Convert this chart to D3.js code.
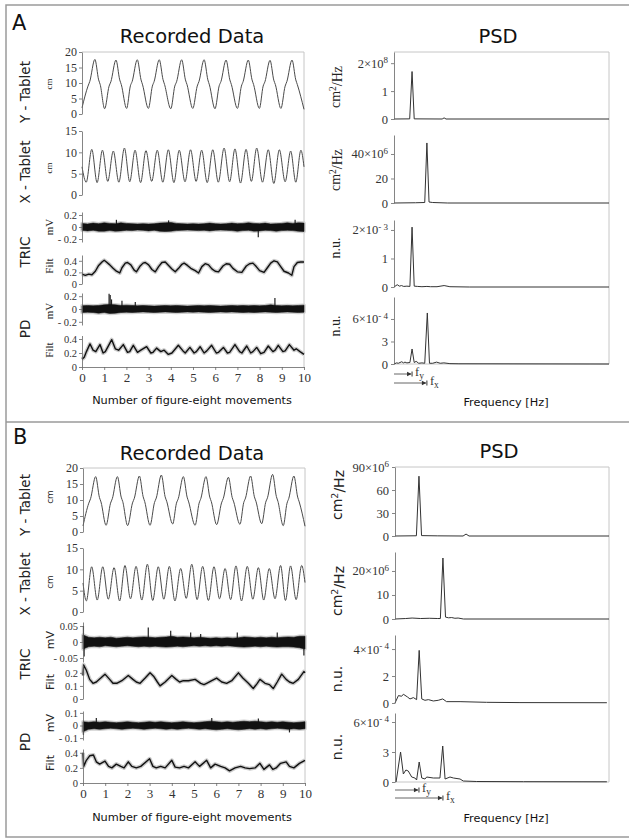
<!DOCTYPE html>
<html>
<head>
<meta charset="utf-8">
<script src="https://cdn.jsdelivr.net/npm/d3@7"></script>
<style>
body { margin: 0; background: #fff; }
svg { display: block; }
</style>
</head>
<body>
<svg id="fig" width="629" height="839"></svg>
<script>
// ---------- Data ----------
// x axis of the recorded data (number of figure-eight movements)
const movementTicks = [0, 1, 2, 3, 4, 5, 6, 7, 8, 9, 10]
const yTabletTicks = [0, 5, 10, 15, 20]
const xTabletTicks = [0, 5, 10, 15]

// Panel A - tablet traces (key points: movement, cm)
const aYTabT = [0, 0.27, 0.35, 0.58, 0.75, 0.82, 1.02, 1.22, 1.30, 1.53, 1.70, 1.77, 2.01, 2.18, 2.26, 2.49, 2.66, 2.73, 2.99,
    3.17, 3.25, 3.48, 3.65, 3.72, 4.00, 4.18, 4.26, 4.49, 4.66, 4.73, 4.99, 5.19, 5.27, 5.50, 5.67, 5.74, 5.99,
    6.18, 6.26, 6.49, 6.66, 6.73, 7.00, 7.18, 7.26, 7.49, 7.66, 7.73, 7.99, 8.16, 8.24, 8.47, 8.64, 8.71, 8.96,
    9.15, 9.23, 9.46, 9.63, 9.70, 10]
const aYTabV = [2.0, 9.0, 10.5, 17.6, 11.0, 9.5, 1.7, 9.0, 10.4, 17.4, 11.0, 9.5, 1.8, 9.1, 10.5, 17.5, 11.0, 9.4, 1.8,
    9.0, 10.5, 17.5, 11.1, 9.5, 1.7, 9.0, 10.4, 17.5, 11.0, 9.5, 1.8, 9.0, 10.5, 17.5, 11.0, 9.4, 1.7,
    9.1, 10.5, 17.4, 11.0, 9.5, 1.8, 9.0, 10.5, 17.4, 11.0, 9.5, 1.8, 9.0, 10.4, 17.3, 10.9, 9.5, 1.8,
    9.0, 10.5, 17.4, 11.0, 9.5, 1.5]
const aXTabT = [0, 0.19, 0.44, 0.68, 0.92, 1.16, 1.41, 1.66, 1.91, 2.15, 2.39, 2.64, 2.88, 3.14, 3.39, 3.64, 3.89, 4.14, 4.38,
    4.64, 4.89, 5.14, 5.39, 5.64, 5.89, 6.14, 6.40, 6.65, 6.89, 7.14, 7.39, 7.63, 7.87, 8.13, 8.39, 8.64, 8.89,
    9.15, 9.40, 9.63, 9.86, 10]
const aXTabV = [6.6, 3.0, 10.7, 2.9, 10.5, 3.2, 10.3, 3.0, 11.0, 3.1, 10.5, 2.9, 10.4, 3.2, 10.5, 3.0, 10.6, 2.9, 10.5,
    3.1, 10.6, 3.2, 10.5, 2.9, 10.6, 3.0, 11.0, 3.1, 10.8, 2.8, 10.7, 3.2, 11.0, 3.0, 10.6, 2.7, 10.6,
    3.1, 10.3, 3.0, 10.5, 6.6]

// Panel B - tablet traces
const bYTabT = [0, 0.26, 0.34, 0.57, 0.74, 0.81, 1.04, 1.24, 1.32, 1.55, 1.72, 1.79, 2.01, 2.23, 2.31, 2.54, 2.71, 2.78, 3.02,
    3.22, 3.30, 3.53, 3.70, 3.77, 4.04, 4.21, 4.29, 4.52, 4.69, 4.76, 5.05, 5.23, 5.31, 5.54, 5.71, 5.78, 6.02,
    6.24, 6.32, 6.55, 6.72, 6.79, 7.07, 7.24, 7.32, 7.55, 7.72, 7.79, 8.05, 8.23, 8.31, 8.54, 8.71, 8.78, 9.02,
    9.19, 9.27, 9.50, 9.67, 9.74, 10]
const bYTabV = [1.9, 9.0, 10.4, 17.3, 10.8, 9.4, 2.1, 9.0, 10.4, 17.3, 10.9, 9.5, 2.0, 9.1, 10.5, 17.5, 11.0, 9.5, 2.1,
    9.2, 10.6, 17.8, 11.0, 9.6, 2.5, 9.0, 10.4, 17.3, 10.9, 9.4, 2.1, 9.0, 10.5, 17.3, 10.9, 9.5, 2.3,
    9.1, 10.5, 17.1, 10.8, 9.4, 2.4, 9.2, 10.6, 17.5, 11.0, 9.6, 2.6, 9.3, 10.7, 18.0, 11.1, 9.6, 2.0,
    9.0, 10.5, 17.5, 10.9, 9.4, 1.8]
const bXTabT = [0, 0.15, 0.39, 0.64, 0.89, 1.14, 1.40, 1.65, 1.89, 2.14, 2.39, 2.65, 2.90, 3.14, 3.39, 3.64, 3.89, 4.14, 4.40,
    4.65, 4.90, 5.14, 5.39, 5.65, 5.90, 6.15, 6.40, 6.65, 6.89, 7.14, 7.40, 7.65, 7.90, 8.14, 8.39, 8.65, 8.90,
    9.12, 9.35, 9.60, 9.85, 10]
const bXTabV = [6.8, 2.6, 10.6, 2.8, 10.6, 3.0, 10.4, 2.6, 10.9, 3.1, 10.7, 2.8, 11.2, 2.7, 10.6, 3.0, 10.7, 2.6, 10.2,
    3.2, 11.2, 2.9, 10.7, 2.7, 10.6, 3.1, 10.2, 2.9, 10.8, 2.6, 10.7, 3.0, 10.4, 2.8, 10.2, 3.1, 10.9,
    2.7, 10.8, 2.9, 10.9, 6.9]

// Raw EMG: envelope of the dense trace, every 0.25 movement (mV)
const emgGrid = d3.range(41).map(i => i * 0.25)
const aTricRawHi = [0.06, 0.05, 0.065, 0.055, 0.07, 0.06, 0.055, 0.07, 0.06, 0.055, 0.05, 0.055, 0.05, 0.055, 0.065, 0.07, 0.075, 0.06, 0.055, 0.05,
    0.055, 0.05, 0.055, 0.065, 0.055, 0.05, 0.055, 0.065, 0.055, 0.06, 0.07, 0.06, 0.055, 0.065, 0.05, 0.055, 0.06, 0.07, 0.06, 0.07, 0.065]
const aTricRawLo = [-0.055, -0.065, -0.055, -0.07, -0.07, -0.06, -0.07, -0.065, -0.055, -0.06, -0.05, -0.055, -0.065, -0.055, -0.07, -0.075, -0.07, -0.06, -0.055, -0.05,
    -0.055, -0.06, -0.055, -0.065, -0.055, -0.05, -0.055, -0.06, -0.07, -0.06, -0.055, -0.07, -0.065, -0.055, -0.06, -0.07, -0.06, -0.055, -0.06, -0.07, -0.075]
const aTricSpikeX = [1.55, 3.9, 7.94, 9.6]
const aTricSpikeV = [0.12, 0.11, -0.17, 0.12]
const aPdRawHi = [0.05, 0.055, 0.05, 0.055, 0.065, 0.07, 0.065, 0.055, 0.06, 0.055, 0.05, 0.055, 0.05, 0.045, 0.05, 0.055, 0.05, 0.055, 0.05, 0.045,
    0.05, 0.055, 0.05, 0.055, 0.05, 0.045, 0.05, 0.055, 0.05, 0.055, 0.05, 0.055, 0.05, 0.055, 0.065, 0.055, 0.05, 0.055, 0.05, 0.055, 0.06]
const aPdRawLo = [-0.055, -0.05, -0.055, -0.065, -0.055, -0.07, -0.065, -0.055, -0.05, -0.055, -0.05, -0.045, -0.05, -0.055, -0.05, -0.045, -0.05, -0.055, -0.05, -0.045,
    -0.05, -0.045, -0.05, -0.055, -0.05, -0.045, -0.05, -0.045, -0.05, -0.055, -0.05, -0.055, -0.05, -0.045, -0.05, -0.055, -0.05, -0.045, -0.05, -0.055, -0.05]
const aPdSpikeX = [1.22, 1.27, 1.33, 1.8, 2.4, 8.69]
const aPdSpikeV = [0.24, 0.22, 0.15, 0.13, 0.11, 0.17]
const bTricRawHi = [0.022, 0.015, 0.013, 0.015, 0.013, 0.015, 0.012, 0.013, 0.015, 0.013, 0.015, 0.016, 0.015, 0.013, 0.015, 0.016, 0.018, 0.015, 0.016, 0.015,
    0.013, 0.015, 0.013, 0.012, 0.013, 0.012, 0.013, 0.012, 0.013, 0.016, 0.015, 0.013, 0.015, 0.013, 0.015, 0.013, 0.015, 0.016, 0.015, 0.018, 0.018]
const bTricRawLo = [-0.022, -0.015, -0.013, -0.015, -0.012, -0.013, -0.015, -0.013, -0.012, -0.013, -0.015, -0.013, -0.015, -0.013, -0.015, -0.016, -0.015, -0.013, -0.015, -0.013,
    -0.012, -0.013, -0.012, -0.013, -0.012, -0.013, -0.012, -0.013, -0.015, -0.016, -0.015, -0.013, -0.015, -0.013, -0.015, -0.016, -0.015, -0.015, -0.016, -0.018, -0.022]
const bTricSpikeX = [0.02, 0.05, 2.94, 3.95, 4.85, 5.3, 6.95, 8.75, 9.95]
const bTricSpikeV = [0.05, -0.045, 0.045, 0.035, 0.03, 0.025, 0.03, 0.03, -0.042]
const bPdRawHi = [0.030, 0.026, 0.030, 0.026, 0.030, 0.026, 0.022, 0.026, 0.030, 0.026, 0.022, 0.026, 0.030, 0.026, 0.030, 0.026, 0.022, 0.026, 0.030, 0.026,
    0.022, 0.026, 0.030, 0.034, 0.030, 0.026, 0.030, 0.026, 0.030, 0.034, 0.030, 0.034, 0.030, 0.026, 0.030, 0.026, 0.030, 0.026, 0.022, 0.026, 0.030]
const bPdRawLo = [-0.050, -0.030, -0.026, -0.030, -0.026, -0.022, -0.026, -0.030, -0.026, -0.022, -0.026, -0.030, -0.026, -0.022, -0.026, -0.030, -0.026, -0.030, -0.026, -0.022,
    -0.026, -0.030, -0.026, -0.030, -0.034, -0.030, -0.026, -0.030, -0.034, -0.030, -0.026, -0.030, -0.026, -0.030, -0.026, -0.022, -0.026, -0.030, -0.026, -0.030, -0.026]
const bPdSpikeX = [0.02, 0.6, 5.8, 7.9, 9.3]
const bPdSpikeV = [-0.075, 0.06, 0.06, 0.055, -0.055]

// Filtered EMG (key points: movement, value)
const aTricFiltT = [0, 0.15, 0.3, 0.45, 0.6, 0.75, 0.9, 1.0, 1.1, 1.25, 1.4, 1.55, 1.7, 1.8, 1.95, 2.05, 2.2, 2.35, 2.45, 2.6, 2.75, 2.85,
    3.0, 3.15, 3.3, 3.45, 3.6, 3.75, 3.9, 4.05, 4.2, 4.35, 4.5, 4.6, 4.75, 4.9, 5.1, 5.25, 5.4, 5.55, 5.7, 5.85, 6.0, 6.15,
    6.35, 6.5, 6.65, 6.8, 7.0, 7.2, 7.4, 7.55, 7.7, 7.85, 8.0, 8.2, 8.35, 8.5, 8.65, 8.8, 8.95, 9.1, 9.3, 9.45, 9.55, 9.7, 9.85, 10]
const aTricFiltV = [0.17, 0.15, 0.17, 0.16, 0.22, 0.32, 0.38, 0.41, 0.38, 0.33, 0.27, 0.22, 0.19, 0.28, 0.36, 0.37, 0.33, 0.24, 0.21, 0.30, 0.36, 0.37,
    0.33, 0.25, 0.21, 0.30, 0.37, 0.38, 0.32, 0.26, 0.21, 0.27, 0.34, 0.36, 0.32, 0.27, 0.23, 0.19, 0.30, 0.35, 0.33, 0.26, 0.22, 0.21,
    0.31, 0.35, 0.34, 0.27, 0.21, 0.20, 0.31, 0.35, 0.36, 0.30, 0.23, 0.20, 0.28, 0.36, 0.40, 0.38, 0.30, 0.22, 0.19, 0.15, 0.30, 0.37, 0.38, 0.38]
const aPdFiltT = [0, 0.1, 0.2, 0.36, 0.5, 0.62, 0.81, 0.95, 1.05, 1.34, 1.5, 1.65, 1.86, 2.05, 2.15, 2.31, 2.5, 2.65, 2.91, 3.1, 3.2, 3.36,
    3.55, 3.7, 3.89, 4.05, 4.34, 4.55, 4.65, 4.86, 5.05, 5.15, 5.32, 5.5, 5.62, 5.84, 6.05, 6.15, 6.37, 6.55, 6.65, 6.89,
    7.1, 7.2, 7.42, 7.6, 7.7, 7.87, 8.05, 8.2, 8.39, 8.6, 8.7, 8.84, 9.05, 9.15, 9.34, 9.55, 9.65, 9.82, 10]
const aPdFiltV = [0.11, 0.14, 0.22, 0.33, 0.24, 0.22, 0.32, 0.20, 0.22, 0.39, 0.26, 0.24, 0.32, 0.21, 0.22, 0.31, 0.21, 0.24, 0.29, 0.20, 0.21, 0.27,
    0.22, 0.24, 0.18, 0.20, 0.31, 0.23, 0.20, 0.28, 0.20, 0.22, 0.29, 0.20, 0.23, 0.31, 0.20, 0.21, 0.28, 0.20, 0.21, 0.32,
    0.22, 0.20, 0.30, 0.20, 0.22, 0.28, 0.19, 0.21, 0.30, 0.22, 0.24, 0.31, 0.22, 0.23, 0.32, 0.24, 0.26, 0.22, 0.18]
const bTricFiltT = [0, 0.03, 0.15, 0.3, 0.45, 0.6, 0.8, 0.99, 1.2, 1.35, 1.52, 1.75, 2.04, 2.25, 2.4, 2.57, 2.8, 3.02, 3.2, 3.35, 3.47,
    3.7, 4.0, 4.2, 4.35, 4.52, 4.75, 5.05, 5.3, 5.45, 5.57, 5.8, 6.02, 6.25, 6.47, 6.7, 7.0, 7.2, 7.45, 7.67, 7.85, 7.97,
    8.2, 8.4, 8.57, 8.75, 8.95, 9.15, 9.3, 9.47, 9.7, 9.95, 10]
const bTricFiltV = [0.18, 0.26, 0.22, 0.15, 0.12, 0.13, 0.16, 0.19, 0.15, 0.12, 0.12, 0.14, 0.18, 0.15, 0.13, 0.12, 0.16, 0.20, 0.17, 0.13, 0.10,
    0.13, 0.18, 0.15, 0.13, 0.14, 0.14, 0.15, 0.12, 0.11, 0.12, 0.14, 0.16, 0.13, 0.12, 0.14, 0.20, 0.16, 0.12, 0.08, 0.12, 0.15,
    0.12, 0.11, 0.08, 0.13, 0.19, 0.15, 0.13, 0.12, 0.15, 0.21, 0.20]
const bPdFiltT = [0, 0.03, 0.15, 0.3, 0.47, 0.6, 0.75, 0.99, 1.15, 1.3, 1.5, 1.7, 1.85, 2.04, 2.2, 2.4, 2.6, 3.0, 3.15, 3.3, 3.5,
    3.7, 4.0, 4.15, 4.35, 4.55, 4.75, 5.05, 5.25, 5.57, 5.75, 5.95, 6.2, 6.4, 6.6, 6.85, 7.1, 7.3, 7.5, 7.75, 7.97,
    8.15, 8.4, 8.55, 8.7, 8.9, 9.15, 9.3, 9.5, 9.75, 10]
const bPdFiltV = [0.40, 0.22, 0.30, 0.36, 0.37, 0.28, 0.25, 0.29, 0.22, 0.20, 0.25, 0.22, 0.20, 0.28, 0.22, 0.20, 0.22, 0.32, 0.22, 0.20, 0.22,
    0.20, 0.30, 0.21, 0.20, 0.22, 0.20, 0.28, 0.22, 0.30, 0.20, 0.25, 0.22, 0.20, 0.16, 0.20, 0.22, 0.20, 0.19, 0.20, 0.26,
    0.18, 0.24, 0.18, 0.20, 0.26, 0.28, 0.22, 0.20, 0.26, 0.30]

// PSD (frequency in bins 0..100 across the axis; values in units of the tick exponent)
const aPsdYF = [0, 7.3, 8.4, 9.4, 22.4, 23.3, 24.2, 100]
const aPsdYV = [0, 0.005, 1.7, 0.005, 0, 0.04, 0, 0]
const aPsdXF = [0, 10, 14.3, 15.3, 16.3, 18, 25, 100]
const aPsdXV = [0, 0.2, 0.4, 49, 0.8, 0.4, 0, 0]
const aPsdTricF = [0, 1.5, 2.5, 3.5, 4.5, 6, 7.4, 8.4, 9.4, 11, 13, 15.3, 17, 20, 23.3, 26, 35, 100]
const aPsdTricV = [0, 0.08, 0.03, 0.05, 0.02, 0.03, 0.02, 2.1, 0.03, 0.02, 0.01, 0.02, 0.01, 0.01, 0.05, 0.01, 0, 0]
const aPsdPdF = [0, 1.2, 2, 3.6, 4.4, 5.1, 6, 7.4, 8.4, 9.4, 10.3, 11.5, 13, 14.3, 15.5, 16.5, 18, 19.8, 21.5, 23.2, 26, 30.2, 100]
const aPsdPdV = [0, 0.15, 0.1, 0.3, 0.15, 0.25, 0.15, 0.2, 2.0, 0.2, 0.35, 0.1, 0.15, 0.1, 6.8, 0.1, 0.1, 0.25, 0.1, 0.15, 0.05, 0.03, 0]
const bPsdYF = [0, 10, 11.2, 12.4, 20, 31.8, 33.2, 34.6, 100]
const bPsdYV = [0, 0.3, 78, 0.5, 0.2, 0, 2.5, 0, 0]
const bPsdXF = [0, 5, 8, 12, 16, 20, 21.2, 22.4, 23.6, 25, 26.5, 28, 29.5, 32, 100]
const bPsdXV = [0, 0.2, 0.4, 0.2, 0.3, 0.2, 0.2, 25.4, 0.8, 0.5, 0.6, 0.3, 0.4, 0, 0]
const bPsdTricF = [0, 1.6, 3.1, 3.9, 5.8, 7, 8.6, 10.1, 11.3, 12.5, 14, 15.6, 17.9, 20.2, 22.3, 24.1, 30.4, 42.8, 58.4, 99]
const bPsdTricV = [0, 0.55, 0.5, 0.65, 0.45, 0.3, 0.4, 0.25, 3.9, 0.3, 0.2, 0.25, 0.15, 0.2, 0.3, 0.1, 0.1, 0.05, 0.03, 0.02]
const bPsdPdF = [0.5, 2.6, 3.9, 5.1, 6.2, 7.8, 9.3, 10.1, 11.3, 12.5, 14, 14.8, 17.9, 21, 22.3, 23.4, 25.7, 27.3, 30.4, 31.9, 38.2, 60, 99]
const bPsdPdV = [0, 3.0, 0.8, 1.2, 1.1, 0.5, 0.4, 0.2, 2.0, 0.4, 0.3, 0.5, 0.4, 0.4, 3.6, 0.3, 0.5, 0.4, 0.3, 0.1, 0.05, 0.03, 0.02]

// Movement frequencies marked under the PSD
const aFy = 8.4, aFx = 15.3
const bFy = 11.2, bFx = 22.4

// ---------- Styles ----------
const sans = "'DejaVu Sans', Verdana, sans-serif"
const serif = "'Liberation Serif', 'Times New Roman', serif"
const frameColor = '#c6c6c6'
const axisColor = '#666'
const borderColor = '#9a9a9a'
const textColor = '#222'

const svg = d3.select('#fig')

const fmtTick = v => v < 0 ? '- ' + Math.abs(v) : String(v)

function styleAxis(g, size) {
    g.select('.domain').attr('stroke', axisColor).attr('stroke-width', 0.8)
    g.selectAll('.tick line').attr('stroke', axisColor).attr('stroke-width', 0.8)
    g.selectAll('.tick text').attr('fill', '#333')
        .style('font-family', serif).style('font-size', size + 'px')
}

function rotLabel(x, y, txt, font, size) {
    return svg.append('text')
        .attr('transform', `translate(${x},${y}) rotate(-90)`)
        .attr('text-anchor', 'middle').attr('dy', '0.35em')
        .style('font-family', font).style('font-size', size + 'px')
        .attr('fill', textColor).text(txt)
}

function plainText(x, y, txt, size, anchor) {
    svg.append('text').attr('x', x).attr('y', y)
        .attr('text-anchor', anchor || 'middle')
        .style('font-family', sans).style('font-size', size + 'px')
        .attr('fill', '#111').text(txt)
}

// ---------- Recorded data ----------
function drawSeries(g, r, x, y) {
    if (r.kind === 'tablet') {
        const pts = r.t.map((t, i) => [t, r.v[i]])
        g.append('path').datum(pts)
            .attr('d', d3.line().x(d => x(d[0])).y(d => y(d[1])).curve(d3.curveMonotoneX))
            .attr('fill', 'none').attr('stroke', '#4a4a4a').attr('stroke-width', 1)
    } else if (r.kind === 'raw') {
        const pts = emgGrid.map((t, i) => ({ t: t, hi: r.hi[i], lo: r.lo[i] }))
        const area = d3.area().x(d => x(d.t)).y0(d => y(d.lo)).y1(d => y(d.hi))
        const spikes = r.spikeX.map((t, i) => [t, r.spikeV[i]])
        g.append('path').datum(pts).attr('d', area)
            .attr('fill', '#bbb').attr('stroke', '#d0d0d0').attr('stroke-width', 3.5).attr('stroke-linejoin', 'round')
        g.selectAll(null).data(spikes).join('line')
            .attr('x1', d => x(d[0])).attr('x2', d => x(d[0]))
            .attr('y1', y(0)).attr('y2', d => y(d[1]))
            .attr('stroke', '#222').attr('stroke-width', 1.2)
        g.append('path').datum(pts).attr('d', area)
            .attr('fill', '#111').attr('stroke', '#111').attr('stroke-width', 0.6)
    } else {
        const pts = r.t.map((t, i) => [t, r.v[i]])
        const line = d3.line().x(d => x(d[0])).y(d => y(d[1]))
        g.append('path').datum(pts).attr('d', line)
            .attr('fill', 'none').attr('stroke', '#cacaca').attr('stroke-width', 4).attr('stroke-linejoin', 'round')
        g.append('path').datum(pts).attr('d', line)
            .attr('fill', 'none').attr('stroke', '#111').attr('stroke-width', 1.4).attr('stroke-linejoin', 'round')
    }
}

function drawRecorded(p) {
    const x = d3.scaleLinear().domain([0, 10]).range([p.x0, p.x1])
    const g = svg.append('g')
    g.append('path').attr('d', `M${p.x0},${p.top}H${p.x1}V${p.bottom}`)
        .attr('fill', 'none').attr('stroke', frameColor).attr('stroke-width', 1)
    p.rows.forEach(r => {
        const y = d3.scaleLinear().domain(r.domain).range(r.range)
        drawSeries(g, r, x, y)
        const ax = g.append('g').attr('transform', `translate(${p.x0},0)`)
            .call(d3.axisLeft(y).tickValues(r.ticks).tickSize(3).tickSizeOuter(0).tickPadding(2).tickFormat(fmtTick))
        styleAxis(ax, r.kind === 'tablet' ? 12 : 10.5)
        rotLabel(p.unitX, r.unitY, r.unit, p.unitFont, r.unitSize)
    })
    const xa = g.append('g').attr('transform', `translate(0,${p.bottom})`)
        .call(d3.axisBottom(x).tickValues(movementTicks).tickSize(3).tickSizeOuter(0).tickPadding(3))
    styleAxis(xa, 13)
    p.groups.forEach(gr => rotLabel(25, gr.y, gr.text, sans, 13.5))
    plainText(p.titleX, p.titleY, 'Recorded Data', 19.5)
    plainText(p.titleX, p.xlabelY, 'Number of figure-eight movements', 11.3)
}

// ---------- PSD ----------
function drawPsd(p) {
    const x = d3.scaleLinear().domain([0, 100]).range([p.x0, p.x1])
    const g = svg.append('g')
    const last = p.rows[p.rows.length - 1]
    g.append('path').attr('d', `M${p.x0},${p.top}H${p.x1}V${last.range[0]}H${p.x0}`)
        .attr('fill', 'none').attr('stroke', frameColor).attr('stroke-width', 1)
    p.rows.forEach(r => {
        const y = d3.scaleLinear().domain(r.domain).range(r.range)
        const pts = r.f.map((f, i) => [f, r.v[i]])
        g.append('path').datum(pts)
            .attr('d', d3.line().x(d => x(d[0])).y(d => y(d[1])))
            .attr('fill', 'none').attr('stroke', '#333').attr('stroke-width', 1).attr('stroke-linejoin', 'round')
        const top = r.ticks[r.ticks.length - 1]
        const ax = g.append('g').attr('transform', `translate(${p.x0},0)`)
            .call(d3.axisLeft(y).tickValues(r.ticks).tickSize(3).tickSizeOuter(0).tickPadding(3).tickFormat(fmtTick))
        styleAxis(ax, 12.5)
        ax.selectAll('.tick text').filter(d => d === top).each(function () {
            const t = d3.select(this).text(null)
            t.append('tspan').text(top + '\u00d710')
            t.append('tspan').attr('dy', '-0.55em').attr('font-size', 9).text(r.exp)
        })
        const u = rotLabel(p.unitX, r.unitY, null, p.unitFont, 14)
        if (r.unit === 'cm2') {
            u.append('tspan').text('cm')
            u.append('tspan').attr('dy', '-0.45em').attr('font-size', 9.5).text('2')
            u.append('tspan').attr('dy', '0.45em').text('/Hz')
        } else {
            u.text('n.u.')
        }
    })
    // movement frequency markers
    p.marks.forEach(m => {
        const xe = x(m.f)
        g.append('line').attr('x1', x(0)).attr('x2', xe - 1).attr('y1', m.y).attr('y2', m.y)
            .attr('stroke', '#555').attr('stroke-width', 0.9)
        g.append('path').attr('d', `M${xe - 5},${m.y - 2.2}L${xe - 0.5},${m.y}L${xe - 5},${m.y + 2.2}Z`).attr('fill', '#333')
        g.append('line').attr('x1', xe).attr('x2', xe).attr('y1', m.y - 2.5).attr('y2', m.y + 2.5)
            .attr('stroke', '#333').attr('stroke-width', 1)
        const t = g.append('text').attr('x', xe + 3).attr('y', m.y + 2)
            .style('font-family', serif).style('font-size', '12.5px').attr('fill', '#333')
        t.append('tspan').text('f')
        t.append('tspan').attr('dy', 3).attr('font-size', 9.5).text(m.sub)
    })
    plainText(p.titleX, p.titleY, 'PSD', 19.5)
    plainText(506, p.xlabelY, 'Frequency [Hz]', 11.3)
}

// ---------- Panel borders and letters ----------
svg.append('path').attr('d', 'M629,5H6V837H629 M6,422H629')
    .attr('fill', 'none').attr('stroke', borderColor).attr('stroke-width', 1.5)
plainText(12, 30, 'A', 21, 'start')
plainText(13, 444, 'B', 21, 'start')

// Panel A
drawRecorded({
    x0: 82, x1: 304, top: 52, bottom: 367, unitX: 49, unitFont: serif,
    titleX: 192, titleY: 43, xlabelY: 404,
    groups: [{ text: 'Y - Tablet', y: 92 }, { text: 'X - Tablet', y: 172 }, { text: 'TRIC', y: 252 }, { text: 'PD', y: 329 }],
    rows: [
        { kind: 'tablet', t: aYTabT, v: aYTabV, domain: [0, 20], range: [114, 52], ticks: yTabletTicks, unit: 'cm', unitY: 84, unitSize: 9 },
        { kind: 'tablet', t: aXTabT, v: aXTabV, domain: [0, 15], range: [195, 131], ticks: xTabletTicks, unit: 'cm', unitY: 168, unitSize: 9 },
        { kind: 'raw', hi: aTricRawHi, lo: aTricRawLo, spikeX: aTricSpikeX, spikeV: aTricSpikeV, domain: [-0.25, 0.25], range: [242, 212], ticks: [-0.2, 0, 0.2], unit: 'mV', unitY: 227, unitSize: 11 },
        { kind: 'filt', t: aTricFiltT, v: aTricFiltV, domain: [0, 0.5], range: [284, 255], ticks: [0, 0.2, 0.4], unit: 'Filt', unitY: 266, unitSize: 11 },
        { kind: 'raw', hi: aPdRawHi, lo: aPdRawLo, spikeX: aPdSpikeX, spikeV: aPdSpikeV, domain: [-0.25, 0.25], range: [325, 293], ticks: [-0.2, 0, 0.2], unit: 'mV', unitY: 311, unitSize: 11 },
        { kind: 'filt', t: aPdFiltT, v: aPdFiltV, domain: [0, 0.45], range: [367, 335.5], ticks: [0, 0.2, 0.4], unit: 'Filt', unitY: 350, unitSize: 11 }
    ]
})
drawPsd({
    x0: 394, x1: 609, top: 52, unitX: 335, unitFont: serif,
    titleX: 498, titleY: 43, xlabelY: 406,
    rows: [
        { f: aPsdYF, v: aPsdYV, domain: [0, 2.4], range: [119, 52], ticks: [0, 1, 2], exp: '8', unit: 'cm2', unitY: 87 },
        { f: aPsdXF, v: aPsdXV, domain: [0, 55.5], range: [203, 135], ticks: [0, 20, 40], exp: '6', unit: 'cm2', unitY: 170 },
        { f: aPsdTricF, v: aPsdTricV, domain: [0, 2.35], range: [287, 220], ticks: [0, 1, 2], exp: '- 3', unit: 'nu', unitY: 248 },
        { f: aPsdPdF, v: aPsdPdV, domain: [0, 8.93], range: [364, 297], ticks: [0, 3, 6], exp: '- 4', unit: 'nu', unitY: 326 }
    ],
    marks: [{ f: aFy, y: 374, sub: 'y' }, { f: aFx, y: 383, sub: 'x' }]
})

// Panel B
drawRecorded({
    x0: 83, x1: 305, top: 468, bottom: 783, unitX: 50, unitFont: sans,
    titleX: 192, titleY: 460, xlabelY: 821,
    groups: [{ text: 'Y - Tablet', y: 505 }, { text: 'X - Tablet', y: 584 }, { text: 'TRIC', y: 664 }, { text: 'PD', y: 742 }],
    rows: [
        { kind: 'tablet', t: bYTabT, v: bYTabV, domain: [0, 20], range: [532, 468], ticks: yTabletTicks, unit: 'cm', unitY: 497, unitSize: 9 },
        { kind: 'tablet', t: bXTabT, v: bXTabV, domain: [0, 15], range: [612, 548], ticks: xTabletTicks, unit: 'cm', unitY: 582, unitSize: 9 },
        { kind: 'raw', hi: bTricRawHi, lo: bTricRawLo, spikeX: bTricSpikeX, spikeV: bTricSpikeV, domain: [-0.0625, 0.0625], range: [662, 622], ticks: [-0.05, 0, 0.05], unit: 'mV', unitY: 640, unitSize: 11 },
        { kind: 'filt', t: bTricFiltT, v: bTricFiltV, domain: [0, 0.26], range: [699, 665], ticks: [0, 0.1, 0.2], unit: 'Filt', unitY: 682, unitSize: 11 },
        { kind: 'raw', hi: bPdRawHi, lo: bPdRawLo, spikeX: bPdSpikeX, spikeV: bPdSpikeV, domain: [-0.115, 0.115], range: [740, 711], ticks: [-0.1, 0, 0.1], unit: 'mV', unitY: 723, unitSize: 11 },
        { kind: 'filt', t: bPdFiltT, v: bPdFiltV, domain: [0, 0.45], range: [783, 749], ticks: [0, 0.2, 0.4], unit: 'Filt', unitY: 763, unitSize: 11 }
    ]
})
drawPsd({
    x0: 395, x1: 609, top: 467, unitX: 337, unitFont: sans,
    titleX: 499, titleY: 458, xlabelY: 822,
    rows: [
        { f: bPsdYF, v: bPsdYV, domain: [0, 90], range: [536, 467], ticks: [0, 30, 60, 90], exp: '6', unit: 'cm2', unitY: 495 },
        { f: bPsdXF, v: bPsdXV, domain: [0, 27.9], range: [619, 552], ticks: [0, 10, 20], exp: '6', unit: 'cm2', unitY: 591 },
        { f: bPsdTricF, v: bPsdTricV, domain: [0, 5.04], range: [703, 635], ticks: [0, 2, 4], exp: '- 4', unit: 'nu', unitY: 679 },
        { f: bPsdPdF, v: bPsdPdV, domain: [0, 6.9], range: [782, 713], ticks: [0, 3, 6], exp: '- 4', unit: 'nu', unitY: 747 }
    ],
    marks: [{ f: bFy, y: 790, sub: 'y' }, { f: bFx, y: 798, sub: 'x' }]
})
</script>
</body>
</html>
